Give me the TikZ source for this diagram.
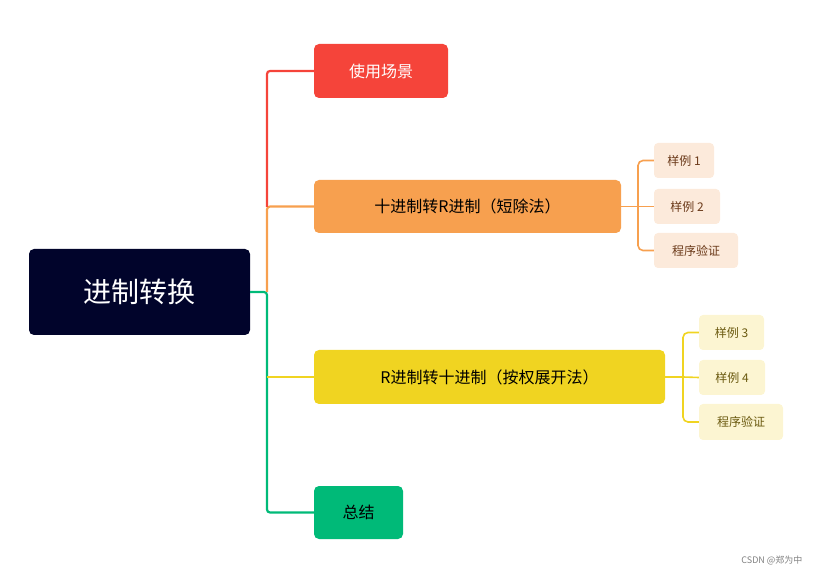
\documentclass[tikz,border=0pt]{standalone}
\usepackage{fontspec}
\setmainfont{Noto Sans CJK SC}
\begin{document}
\begin{tikzpicture}[x=1pt,y=-1pt,
  box/.style={rounded corners=5pt,inner sep=0pt},
  sub/.style={rounded corners=4pt,inner sep=0pt,fill=subfill,text=subtext,font=\fontsize{12}{14}\selectfont},
  ln/.style={line width=2.2pt,rounded corners=3pt},
  sln/.style={line width=1.6pt,rounded corners=5pt}]
\definecolor{navy}{HTML}{01042B}
\definecolor{cred}{HTML}{F5443A}
\definecolor{corange}{HTML}{F7A04F}
\definecolor{cyellow}{HTML}{F0D421}
\definecolor{cgreen}{HTML}{00BA78}
\definecolor{subfill}{HTML}{FCEADB}
\definecolor{subtext}{HTML}{6B3A1A}
\definecolor{ysubfill}{HTML}{FCF5D2}
\definecolor{ysubtext}{HTML}{6B5A10}
\useasboundingbox (0,0) rectangle (820,577);
% root
\node[box,fill=navy,text=white,minimum width=221pt,minimum height=86pt,font=\fontsize{28}{32}\selectfont] (root) at (139.5,292) {进制转换};
\node[box,fill=cred,text=white,minimum width=134pt,minimum height=54pt,font=\fontsize{16}{19}\selectfont] (a) at (381,71) {使用场景};
\node[box,fill=corange,text=black,minimum width=307pt,minimum height=53pt,font=\fontsize{16}{19}\selectfont] (b) at (467.5,206.5) {十进制转R进制（短除法）};
\node[box,fill=cyellow,text=black,minimum width=351pt,minimum height=54pt,font=\fontsize{16}{19}\selectfont] (c) at (489.5,377) {R进制转十进制（按权展开法）};
\node[box,fill=cgreen,text=black,minimum width=89pt,minimum height=53pt,font=\fontsize{16}{19}\selectfont] (d) at (358.5,512.5) {总结};
% orange subs
\node[sub,minimum width=60pt,minimum height=35pt] (b1) at (684,160.5) {样例 1};
\node[sub,minimum width=66pt,minimum height=35pt] (b2) at (687,206.5) {样例 2};
\node[sub,minimum width=84pt,minimum height=35pt] (b3) at (696,250.5) {程序验证};
% yellow subs
\node[sub,fill=ysubfill,text=ysubtext,minimum width=65pt,minimum height=35pt] (c1) at (731.5,332.5) {样例 3};
\node[sub,fill=ysubfill,text=ysubtext,minimum width=66pt,minimum height=35pt] (c2) at (732,377.5) {样例 4};
\node[sub,fill=ysubfill,text=ysubtext,minimum width=84pt,minimum height=36pt] (c3) at (741,422) {程序验证};
% main connectors
\coordinate (j) at (267,292);
\draw[ln,cgreen] (root.east) -- (j) |- (d.west);
\draw[ln,cyellow] (267,377) -- (c.west);
\draw[ln,corange] (j) |- (b.west);
\draw[ln,cred] (267,207) |- (a.west);
% sub connectors
\coordinate (bj) at (638,206.5);
\draw[sln,corange] (b.east) -- (bj);
\draw[sln,corange] (b1.west) -| (bj) |- (b3.west);
\draw[sln,corange] (bj) -- (b2.west);
\coordinate (cj) at (683,377);
\draw[sln,cyellow] (c.east) -- (cj);
\draw[sln,cyellow] (c1.west) -| (cj) |- (c3.west);
\draw[sln,cyellow] (cj) -- (c2.west);
\node[text=gray,font=\fontsize{9}{11}\selectfont,anchor=east] (wm) at (806,560) {CSDN @郑为中};
\end{tikzpicture}
\end{document}
